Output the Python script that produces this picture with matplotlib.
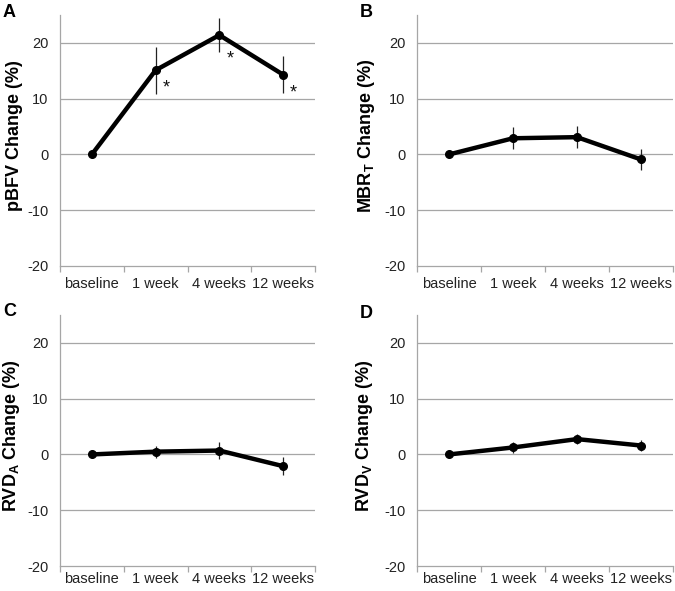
import numpy as np
import matplotlib
matplotlib.use('Agg')
import matplotlib.pyplot as plt

plt.rcParams['font.family'] = ['Liberation Sans', 'DejaVu Sans']
plt.rcParams['mathtext.default'] = 'regular'
plt.rcParams['axes.unicode_minus'] = False

# time points
categories = ['baseline', '1 week', '4 weeks', '12 weeks']

# percent change and error
pbfv = [0, 15.1, 21.4, 14.3]
pbfv_err = [0, 4.2, 3.1, 3.3]
mbr = [0, 2.9, 3.1, -0.9]
mbr_err = [0, 2.0, 2.0, 1.8]
rvda = [0, 0.5, 0.7, -2.1]
rvda_err = [0, 1.1, 1.6, 1.6]
rvdv = [0, 1.25, 2.75, 1.6]
rvdv_err = [0, 1.0, 0.95, 1.05]

ylabels = ['pBFV Change (%)', 'MBR$_T$ Change (%)',
           'RVD$_A$ Change (%)', 'RVD$_V$ Change (%)']
letters = ['A', 'B', 'C', 'D']
# which points are significant (panel A only)
signif = [[False, True, True, True], [False]*4, [False]*4, [False]*4]

W, H = 675, 591
fig = plt.figure(figsize=(W/100, H/100), dpi=100)

# axes boxes in pixels: left, top, right, bottom
boxes = [(60, 15, 315, 266), (417, 15, 673, 266),
         (60, 315, 315, 566), (417, 315, 673, 566)]
label_x = [-0.145, -0.156, -0.149, -0.164]
letter_pos = [(3, 17), (360, 17), (3, 316), (360, 318)]
xpad = [8, 8, 4.5, 4.5]
star_off = [None, (5, -13), (5, -17), (5, -13)]

data = [(pbfv, pbfv_err), (mbr, mbr_err), (rvda, rvda_err), (rvdv, rvdv_err)]
grid_c = '#a6a6a6'

for k in range(4):
    l, t, r, b = boxes[k]
    ax = fig.add_axes([l/W, 1-b/H, (r-l)/W, (b-t)/H])
    vals, errs = data[k]
    x = np.arange(len(categories))
    ax.errorbar(x, vals, yerr=errs, fmt='none', ecolor='#222222',
                elinewidth=0.9, capsize=0, zorder=3)
    ax.plot(x, vals, color='black', lw=3.2, marker='o', ms=5.5,
            solid_joinstyle='miter', zorder=4)
    for i in range(len(categories)):
        if signif[k][i]:
            ax.annotate('*', (x[i], vals[i]), xytext=star_off[i],
                        textcoords='offset points', fontsize=13,
                        ha='left', va='center', color='#111111')
    ax.set_xlim(-0.5, 3.5)
    ax.set_ylim(-20, 25)
    ax.set_yticks([-20, -10, 0, 10, 20])
    ax.set_xticks([0, 1, 2, 3])
    ax.set_xticklabels(categories)
    ax.set_xticks([-0.5, 0.5, 1.5, 2.5, 3.5], minor=True)
    ax.tick_params(axis='x', which='major', length=0, pad=xpad[k],
                   labelsize=10.5, labelcolor='#222222')
    ax.tick_params(axis='x', which='minor', length=4, width=0.9,
                   color=grid_c, direction='out')
    ax.tick_params(axis='y', length=0, pad=8.5, labelsize=10.5,
                   labelcolor='#222222')
    for yv in [-10, 0, 10, 20]:
        ax.axhline(yv, color=grid_c, lw=0.9, zorder=1)
    for s in ['top', 'right']:
        ax.spines[s].set_visible(False)
    for s in ['left', 'bottom']:
        ax.spines[s].set_color(grid_c)
        ax.spines[s].set_linewidth(0.9)
    ax.set_ylabel(ylabels[k], fontsize=13, fontweight='bold')
    ax.yaxis.set_label_coords(label_x[k], 0.52)
    lx, ly = letter_pos[k]
    fig.text(lx/W, 1-ly/H, letters[k], fontsize=13, fontweight='bold',
             ha='left', va='baseline')

fig.savefig('out.png', dpi=100)
